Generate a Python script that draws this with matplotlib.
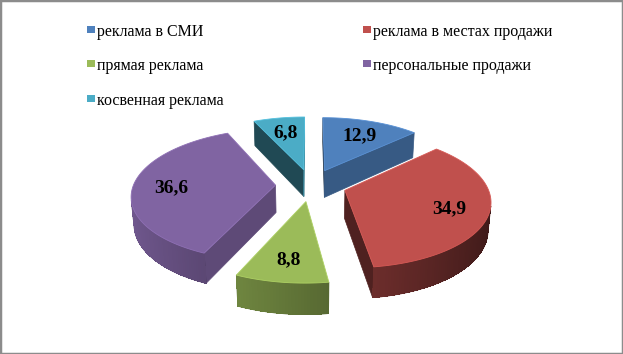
import numpy as np
import matplotlib.pyplot as plt
from matplotlib.patches import Polygon, Rectangle
import matplotlib.colors as mcolors

# данные диаграммы
labels = ['реклама в СМИ', 'реклама в местах продажи', 'прямая реклама',
          'персональные продажи', 'косвенная реклама']
values = [12.9, 34.9, 8.8, 36.6, 6.8]
colors = ['#4F81BD', '#C0504D', '#9BBB59', '#8064A2', '#4BACC6']

# параметры объёмной "камеры"
EXPLODE = 0.25
HEIGHT = 0.22
ELEV = np.radians(27)
DIST = 6.17
SCALE = 142
CX, CY = 311, 185
LABEL_R = 0.73

plt.rcParams['font.family'] = ['Liberation Serif', 'DejaVu Serif']

cam = np.array([0.0, -DIST * np.cos(ELEV), DIST * np.sin(ELEV)])


def project(p):
    p = np.atleast_2d(p)
    x, y, z = p[:, 0], p[:, 1], p[:, 2]
    fwd = DIST + y * np.cos(ELEV) - z * np.sin(ELEV)
    k = DIST / fwd
    sx = CX + SCALE * x * k
    sy = CY - SCALE * (y * np.sin(ELEV) + z * np.cos(ELEV)) * k
    return np.column_stack([sx, sy])


def depth(p):
    return DIST + p[1] * np.cos(ELEV) - p[2] * np.sin(ELEV)


def shade(color, f):
    rgb = np.array(mcolors.to_rgb(color))
    return tuple(np.clip(rgb * f, 0, 1))


def visible(normal, point):
    return np.dot(normal, cam - point) > 0


fig = plt.figure(figsize=(6.23, 3.54), dpi=100)
ax = fig.add_axes([0, 0, 1, 1])
ax.set_xlim(0, 623)
ax.set_ylim(354, 0)
ax.axis('off')

total = sum(values)
bounds = np.concatenate([[0], np.cumsum(values)]) / total * 360

slices = []
for i, v in enumerate(values):
    a0, a1 = bounds[i], bounds[i + 1]
    mid = np.radians((a0 + a1) / 2)
    off = np.array([EXPLODE * np.sin(mid), EXPLODE * np.cos(mid), 0.0])
    centroid = off + 0.5 * np.array([np.sin(mid), np.cos(mid), 0.0])
    slices.append((depth(centroid), i, a0, a1, mid, off))

# рисуем от дальних к ближним
for _, i, a0, a1, mid, off in sorted(slices, key=lambda s: -s[0]):
    col = colors[i]
    th = np.radians(np.linspace(a0, a1, max(8, int(a1 - a0))))
    top = np.column_stack([np.sin(th), np.cos(th), np.zeros_like(th)]) + off
    bot = top - np.array([0, 0, HEIGHT])
    ctop = off.copy()
    cbot = off - np.array([0, 0, HEIGHT])

    # радиальные грани
    r0, r1 = np.radians(a0), np.radians(a1)
    n0 = np.array([-np.cos(r0), np.sin(r0), 0])
    n1 = np.array([np.cos(r1), -np.sin(r1), 0])
    for n, edge_t, edge_b in ((n0, top[0], bot[0]), (n1, top[-1], bot[-1])):
        if visible(n, ctop):
            fc = shade(col, 0.58 + 0.17 * n[0])
            ax.add_patch(Polygon(project(np.array([ctop, edge_t, edge_b, cbot])),
                                 closed=True, facecolor=fc, edgecolor=fc, linewidth=0.5))

    # боковая поверхность: контур + полосы градиента
    vis = [j for j in range(len(th) - 1)
           if visible(np.array([np.sin((th[j] + th[j + 1]) / 2),
                                np.cos((th[j] + th[j + 1]) / 2), 0]), top[j])]
    if vis:
        j0, j1 = vis[0], vis[-1] + 1
        outline = np.vstack([top[j0:j1 + 1], bot[j0:j1 + 1][::-1]])
        avg = shade(col, 0.55)
        ax.add_patch(Polygon(project(outline), closed=True, facecolor=avg,
                             edgecolor=avg, linewidth=0.6))
        for j in vis:
            tm = (th[j] + th[j + 1]) / 2
            f = np.clip(0.6 - 0.28 * np.sin(tm), 0.3, 0.9)
            fc = shade(col, f)
            quad = np.array([top[j], top[j + 1], bot[j + 1], bot[j]])
            ax.add_patch(Polygon(project(quad), closed=True, facecolor=fc,
                                 edgecolor='none', linewidth=0, antialiased=False))

    # верхняя грань
    top_poly = np.vstack([ctop, top])
    ax.add_patch(Polygon(project(top_poly), closed=True, facecolor=col,
                         edgecolor=shade(col, 1.12), linewidth=0.6))

    # подпись значения
    lp = off + LABEL_R * np.array([np.sin(mid), np.cos(mid), 0])
    sx, sy = project(lp)[0]
    ax.text(sx, sy, f'{values[i]:.1f}'.replace('.', ','), ha='center',
            va='center_baseline', fontsize=14, fontweight='bold', color='black')

# легенда по строкам, как в Excel: 2 колонки
LEG_X = [87.3, 363.3]
LEG_Y0, LEG_DY = 36.3, 34.2
for k, (lab, col) in enumerate(zip(labels, colors)):
    x = LEG_X[k % 2]
    base = LEG_Y0 + LEG_DY * (k // 2)
    ax.add_patch(Rectangle((x, base - 10.2), 7.4, 7.0, facecolor=col,
                           edgecolor='none'))
    ax.text(x + 10, base, lab, ha='left', va='baseline', fontsize=11.5,
            color='black')

fig.add_artist(Rectangle((0, 0), 1, 1, transform=fig.transFigure, fill=False,
                         edgecolor='#8c8c8c', linewidth=2.5))

fig.savefig('out.png', dpi=100)
